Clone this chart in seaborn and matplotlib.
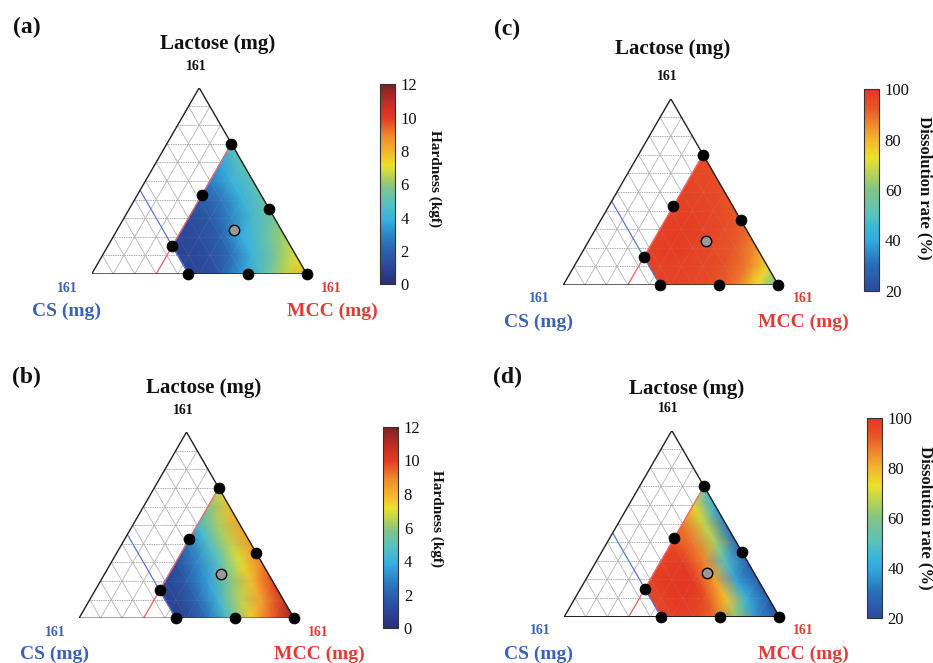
import numpy as np
import pandas as pd
import matplotlib
matplotlib.use("Agg")
import matplotlib.pyplot as plt
import matplotlib.tri as mtri
from matplotlib.colors import LinearSegmentedColormap
import seaborn as sns

# ---------------- data (mixture fractions of the 161 mg total) ----------------
axis_max = 161
mcc_limit = 0.30          # red constraint line (MCC >= 0.30)
cs_limit = 0.55           # blue constraint line (CS <= 0.55)

# nodes where the response surfaces were read (Lactose, MCC); CS = 1 - L - M
lactose_nodes = [0.7,
                 0.6, 0.6,
                 0.5, 0.5, 0.5,
                 0.4, 0.4, 0.4, 0.4,
                 0.3, 0.3, 0.3, 0.3, 0.3,
                 0.2, 0.2, 0.2, 0.2, 0.2, 0.2,
                 0.15,
                 0.1, 0.1, 0.1, 0.1, 0.1, 0.1,
                 0.0, 0.0, 0.0, 0.0, 0.0, 0.0, 0.0]
mcc_nodes = [0.3,
             0.3, 0.4,
             0.3, 0.4, 0.5,
             0.3, 0.4, 0.5, 0.6,
             0.3, 0.4, 0.5, 0.6, 0.7,
             0.3, 0.4, 0.5, 0.6, 0.7, 0.8,
             0.3,
             0.4, 0.5, 0.6, 0.7, 0.8, 0.9,
             0.45, 0.5, 0.6, 0.7, 0.8, 0.9, 1.0]

hardness_a = [5.0,
              3.6, 5.0,
              2.8, 4.0, 5.0,
              1.8, 2.6, 4.0, 5.2,
              1.2, 1.7, 3.0, 4.4, 5.6,
              1.0, 1.3, 2.0, 3.8, 5.0, 6.3,
              1.0,
              1.0, 1.4, 2.4, 4.2, 5.6, 7.0,
              1.0, 1.0, 1.8, 3.4, 4.9, 6.5, 8.0]
hardness_b = [6.8,
              5.8, 7.8,
              4.3, 6.3, 8.3,
              2.5, 4.5, 6.5, 8.5,
              1.3, 3.0, 4.8, 7.0, 9.0,
              1.0, 1.8, 3.5, 5.8, 7.8, 9.8,
              1.0,
              1.0, 2.2, 4.2, 6.5, 8.5, 10.5,
              0.9, 1.0, 2.5, 5.0, 7.6, 9.5, 11.5]
dissolution_c = [95,
                 96, 95,
                 97, 96, 94,
                 97, 97, 96, 93,
                 97, 98, 97, 95, 91,
                 97, 98, 97, 95, 92, 85,
                 97,
                 97, 97, 96, 94, 88, 75,
                 97, 97, 96, 94, 89, 74, 50]
dissolution_d = [50,
                 75, 40,
                 88, 68, 32,
                 95, 88, 65, 30,
                 97, 98, 87, 48, 27,
                 97, 99, 99, 83, 38, 25,
                 96,
                 97, 99, 96, 78, 42, 24,
                 96, 97, 97, 90, 62, 35, 22]

# design points (black) and centre point (grey)
design_lactose = [0.70, 0.425, 0.15, 0.0, 0.0, 0.0, 0.35]
design_mcc = [0.30, 0.30, 0.30, 0.45, 0.725, 1.0, 0.65]
center_lactose = [0.237]
center_mcc = [0.543]

hard_ticks = [0, 2, 4, 6, 8, 10, 12]
diss_ticks = [20, 40, 60, 80, 100]

# ---------------- style ----------------
sns.set_theme(style="white")
plt.rcParams["font.family"] = ["Liberation Serif", "DejaVu Serif"]

W, H = 933, 663
fig = plt.figure(figsize=(W / 100, H / 100), dpi=100)

SQ3 = np.sqrt(3) / 2
CS_BLUE = "#3a62b6"
MCC_RED = "#e23c36"

hard_stops = [
    (0.00, "#2a2d76"), (0.08, "#2b4596"), (0.17, "#2a62ae"), (0.25, "#2d86c8"),
    (0.32, "#33b0e3"), (0.40, "#55c1c0"), (0.48, "#7ec48c"), (0.54, "#b8d352"),
    (0.595, "#ebe22b"), (0.66, "#f5b82b"), (0.74, "#f08a2c"), (0.83, "#e63b25"),
    (0.91, "#c22c24"), (1.00, "#772424"),
]
cmap_hard = LinearSegmentedColormap.from_list("hard", hard_stops, N=512)

diss_stops = [
    (0.000, "#2a4b9b"), (0.125, "#2b6cb6"), (0.250, "#31a9df"),
    (0.3125, "#3cb8d6"), (0.375, "#58c2bd"), (0.500, "#82c487"),
    (0.600, "#c4d54a"), (0.6625, "#ebe22b"), (0.750, "#f4b52b"),
    (0.825, "#f08a2c"), (0.900, "#e95a28"), (1.000, "#e33423"),
]
cmap_diss = LinearSegmentedColormap.from_list("diss", diss_stops, N=512)


def to_xy(L, M):
    L = np.asarray(L, float)
    M = np.asarray(M, float)
    return M + L / 2, L * SQ3


def px_rect(left, top, width, height):
    return [left / W, 1 - (top + height) / H, width / W, height / H]


def ftext(x, y, s, **kw):
    fig.text(x / W, 1 - y / H, s, ha="center", va="center", **kw)


def draw_panel(tri_left, tri_base, values, cmap, vmin, vmax, ticks, cbar_rect,
               cbar_label, label_px, texts):
    side = 215.0
    ax = fig.add_axes(px_rect(tri_left, tri_base - side * SQ3, side, side * SQ3))
    ax.set_xlim(0, 1)
    ax.set_ylim(0, SQ3)
    ax.axis("off")

    # triangular grid
    def grid(alpha, z):
        for k in range(1, 10):
            t = k / 10
            x, y = to_xy([t, t], [0, 1 - t])
            ax.plot(x, y, color="#a8a8a8", lw=0.7, ls=(0, (1.0, 0.8)),
                    alpha=alpha, zorder=z)
            x, y = to_xy([0, 1 - t], [t, t])
            ax.plot(x, y, color="#b4b4b4", lw=0.55, alpha=alpha, zorder=z)
            x, y = to_xy([0, 1 - t], [1 - t, 0])
            ax.plot(x, y, color="#b4b4b4", lw=0.55, alpha=alpha, zorder=z)
    grid(1.0, 1)

    # response surface
    x, y = to_xy(lactose_nodes, mcc_nodes)
    tri = mtri.Triangulation(x, y)
    tpc = ax.tripcolor(tri, np.asarray(values, float), shading="gouraud",
                       cmap=cmap, vmin=vmin, vmax=vmax, zorder=2)
    grid(0.15, 3)

    # constraint lines
    x, y = to_xy([0, 1 - mcc_limit], [mcc_limit, mcc_limit])
    ax.plot(x, y, color="#f06a6a", lw=0.9, zorder=4)
    x, y = to_xy([0, 1 - cs_limit], [1 - cs_limit, 0])
    ax.plot(x, y, color="#5a76d2", lw=0.9, zorder=4)

    # outline
    ax.plot([0, 1, 0.5, 0], [0, 0, SQ3, 0], color="#222222", lw=1.0,
            zorder=4, solid_joinstyle="miter")

    # design points
    dx, dy = to_xy(design_lactose, design_mcc)
    pts = pd.DataFrame({"x": dx, "y": dy})
    sns.scatterplot(data=pts, x="x", y="y", ax=ax, color="black", s=62,
                    edgecolor="black", linewidth=0.5, zorder=6, clip_on=False,
                    legend=False)
    cx, cy = to_xy(center_lactose, center_mcc)
    cpts = pd.DataFrame({"x": cx, "y": cy})
    sns.scatterplot(data=cpts, x="x", y="y", ax=ax, color="#9a9a9a", s=56,
                    edgecolor="black", linewidth=1.0, zorder=7, clip_on=False,
                    legend=False)
    ax.set_xlabel("")
    ax.set_ylabel("")
    ax.set_xlim(0, 1)
    ax.set_ylim(0, SQ3)
    ax.axis("off")

    # colorbar
    cax = fig.add_axes(px_rect(*cbar_rect))
    cb = fig.colorbar(tpc, cax=cax, ticks=ticks)
    cb.outline.set_linewidth(0.8)
    cb.outline.set_edgecolor("#333333")
    cax.tick_params(direction="in", length=3, width=0.6, colors="#555555",
                    labelsize=12, labelcolor="#111111", pad=4)
    for t in cax.get_yticklabels():
        t.set_fontfamily(["Liberation Serif", "DejaVu Serif"])

    # texts
    (lx, ly), (tx, ty), (ax161, ay161), (csx, csy, cslx, csly), \
        (mx, my, mlx, mly), (cbx, cby, cbsize) = texts
    ftext(lx, ly, label_px, fontsize=17, fontweight="bold", color="#111111")
    ftext(tx, ty, "Lactose (mg)", fontsize=15, fontweight="bold", color="#111111")
    ftext(ax161, ay161, str(axis_max), fontsize=10, fontweight="bold", color="#111111")
    ftext(csx, csy, str(axis_max), fontsize=10, fontweight="bold", color=CS_BLUE)
    ftext(cslx, csly, "CS (mg)", fontsize=14, fontweight="bold", color=CS_BLUE)
    ftext(mx, my, str(axis_max), fontsize=10, fontweight="bold", color=MCC_RED)
    ftext(mlx, mly, "MCC (mg)", fontsize=14, fontweight="bold", color=MCC_RED)
    ftext(cbx, cby, cbar_label, fontsize=cbsize, fontweight="bold",
          color="#111111", rotation=270)


# (a)
draw_panel(91.7, 274.0, hardness_a, cmap_hard, 0, 12, hard_ticks,
           (380, 84.3, 15, 200), "Hardness (kgf)", "(a)",
           [(27, 27), (217.5, 44), (196, 66), (67, 289, 67, 311),
            (331, 289, 332, 311), (435, 179, 11)])
# (b)
draw_panel(79.0, 618.3, hardness_b, cmap_hard, 0, 12, hard_ticks,
           (383.3, 426.7, 15, 201.6), "Hardness (kgf)", "(b)",
           [(26, 377), (204, 388.5), (183, 410), (55, 632, 54, 654),
            (318, 632, 319, 654), (437, 519, 11)])
# (c)
draw_panel(563.3, 285.0, dissolution_c, cmap_diss, 20, 100, diss_ticks,
           (864.3, 89.3, 15, 201.4), "Dissolution rate (%)", "(c)",
           [(507, 29), (672.5, 49), (667, 77), (539, 299, 538, 322),
            (803, 299, 803, 322), (925, 188, 12)])
# (d)
draw_panel(564.3, 616.7, dissolution_d, cmap_diss, 20, 100, diss_ticks,
           (866.7, 417.7, 15, 200.6), "Dissolution rate (%)", "(d)",
           [(507, 377), (686.5, 389), (668, 409), (540, 631, 539, 654),
            (803, 631, 803, 654), (926, 518, 12)])

fig.savefig("out.png", dpi=100)
